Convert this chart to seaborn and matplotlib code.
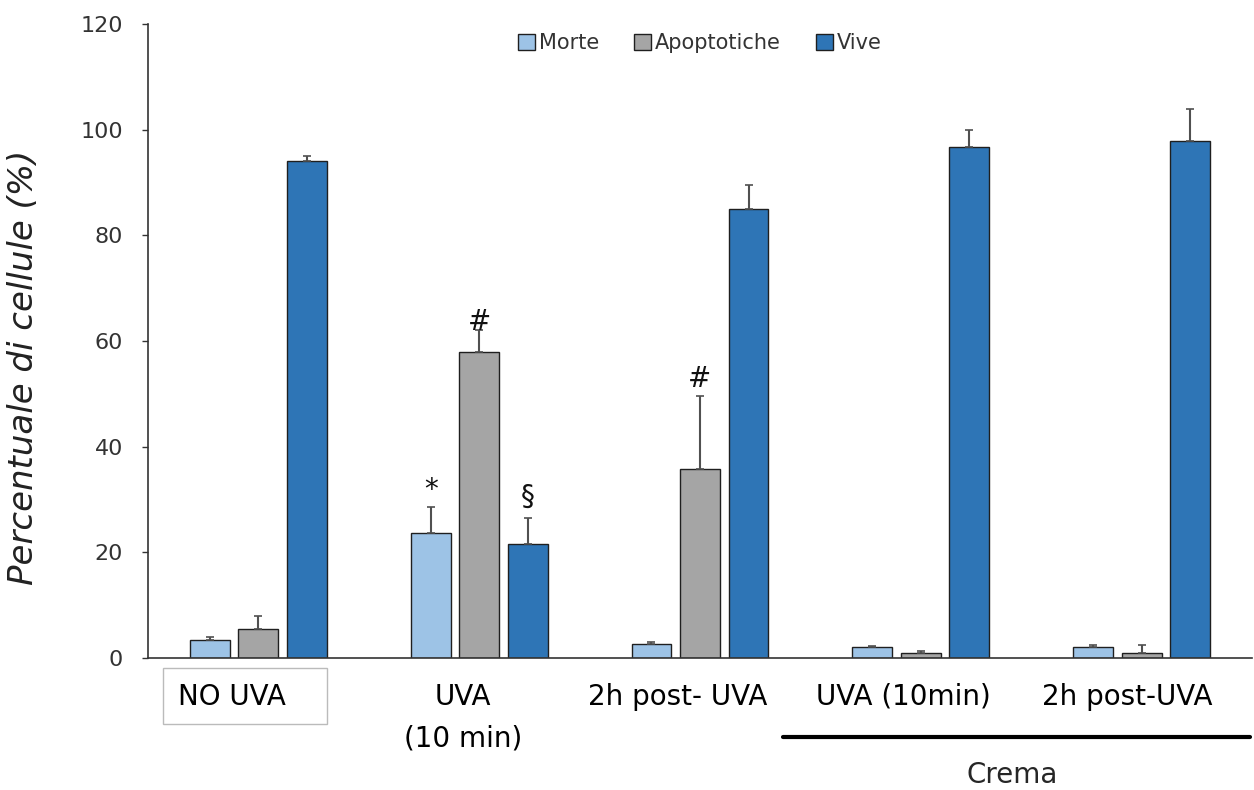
import matplotlib
matplotlib.use("Agg")
import matplotlib.pyplot as plt
import matplotlib.transforms as mtransforms
from matplotlib.lines import Line2D
from matplotlib.patches import Rectangle
import seaborn as sns
import pandas as pd
import numpy as np

groups = ["NO UVA", "UVA\n(10 min)", "2h post- UVA", "UVA (10min)", "2h post-UVA"]
series = ["Morte", "Apoptotiche", "Vive"]
morte = [3.4, 23.7, 2.6, 2.0, 2.0]
apoptotiche = [5.5, 58.0, 35.8, 1.0, 1.0]
vive = [94.0, 21.6, 85.0, 96.8, 97.9]
err_morte = [0.6, 4.8, 0.4, 0.3, 0.5]
err_apoptotiche = [2.5, 4.0, 13.7, 0.3, 1.5]
err_vive = [1.0, 4.9, 4.5, 3.2, 6.0]
marks = {("Morte", 1): "*", ("Apoptotiche", 1): "#", ("Vive", 1): "§", ("Apoptotiche", 2): "#"}
mark_offsets = {("Morte", 1): 3.3, ("Apoptotiche", 1): 1.6, ("Vive", 1): 4.0, ("Apoptotiche", 2): 3.3}
colors = ["#9DC3E6", "#A5A5A5", "#2E75B6"]

rows = []
for s, vals, errs in zip(series, [morte, apoptotiche, vive], [err_morte, err_apoptotiche, err_vive]):
    for g, v, e in zip(groups, vals, errs):
        rows.append({"group": g, "serie": s, "value": v, "err": e})
df = pd.DataFrame(rows)

sns.set_theme(style="white")
plt.rcParams["font.family"] = ["DejaVu Sans"]

fig = plt.figure(figsize=(12.54, 7.9), dpi=100)
ax = fig.add_axes([148/1254, 1 - 658/790, (1252-148)/1254, (658-24)/790])

sns.barplot(data=df, x="group", y="value", hue="serie", order=groups, hue_order=series,
            palette=colors, saturation=1, width=0.66, gap=0.18, errorbar=None,
            edgecolor="#1f1f1f", linewidth=1.0, ax=ax, legend=False)

for s, cont in zip(series, ax.containers):
    sub = df[df.serie == s].set_index("group").loc[groups]
    for i, (bar, v, e) in enumerate(zip(cont.patches, sub.value, sub.err)):
        xc = bar.get_x() + bar.get_width() / 2
        ax.errorbar(xc, v, yerr=[[0], [e]], fmt="none", ecolor="#505050", elinewidth=1.5,
                    capsize=3, capthick=1.2, zorder=3)
        if (s, i) in marks:
            ax.text(xc, v + e + mark_offsets[(s, i)], marks[(s, i)], ha="center", va="center",
                    fontsize=20, color="#111111")

ax.set_xlim(-0.5, 4.5)
ax.set_ylim(0, 120)
ax.set_yticks(np.arange(0, 121, 20))
ax.tick_params(axis="y", which="both", left=True, length=4, width=1, color="#333333",
               labelsize=16, labelcolor="#333333", pad=14)
ax.tick_params(axis="x", bottom=False, labelsize=20, pad=12, labelcolor="black")
for sp in ["top", "right"]:
    ax.spines[sp].set_visible(False)
ax.spines["left"].set_color("#333333")
ax.spines["bottom"].set_color("#333333")
ax.spines["left"].set_linewidth(1.2)
ax.spines["bottom"].set_linewidth(1.2)
ax.set_xlabel("")
ax.set_ylabel("Percentuale di cellule (%)", fontsize=24.5, style="italic", color="#222222")
ax.yaxis.set_label_coords(-(148 - 40) / 1104, (658 - 367) / 634)

shifts = [-26, -16, -22, -17, -14]
for lbl, dx in zip(ax.get_xticklabels(), shifts):
    lbl.set_linespacing(1.6)
    lbl.set_transform(lbl.get_transform() + mtransforms.ScaledTranslation(dx/100, 0, fig.dpi_scale_trans))

# box around "NO UVA"
fig.add_artist(Rectangle((163/1254, 1 - 724/790), 164/1254, 56/790, transform=fig.transFigure,
                         facecolor="none", edgecolor="#bbbbbb", linewidth=1))

# Crema bracket
fig.add_artist(Line2D([783/1254, 1250/1254], [1 - 737/790, 1 - 737/790], color="black", linewidth=3))
fig.text(1012/1254, 1 - 775/790, "Crema", ha="center", va="center", fontsize=20)

handles = [plt.Rectangle((0, 0), 1, 1, facecolor=c, edgecolor="#1f1f1f", linewidth=1) for c in colors]
ax.legend(handles, series, loc="upper center", bbox_to_anchor=(0.5, 1.015), ncol=3, frameon=False,
          fontsize=15, handlelength=0.8, handleheight=0.8, handletextpad=0.2, columnspacing=1.7,
          labelcolor="#333333")

fig.savefig("out.png", dpi=100, facecolor="white")
